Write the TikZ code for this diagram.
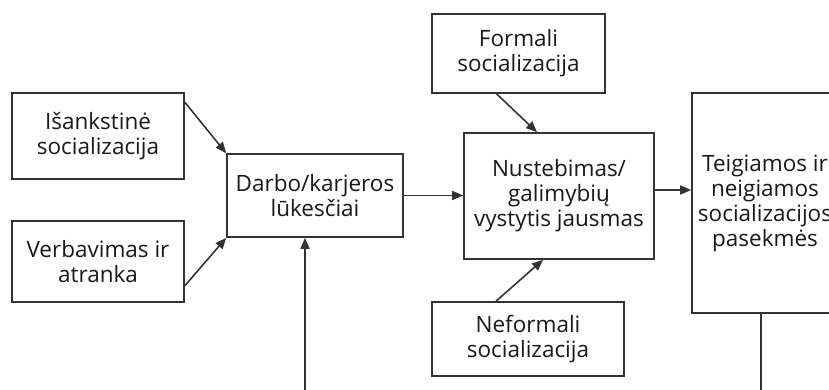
\documentclass[tikz,border=0pt]{standalone}
\usepackage{fontspec}
\setmainfont{Open Sans}
\usetikzlibrary{arrows.meta}
\definecolor{ink}{HTML}{333333}
\tikzset{
  box/.style={draw=ink, line width=1.6pt, fill=white, align=center, inner sep=0pt,
    font=\fontsize{22.5}{25}\selectfont, text=black!90},
  link/.style={draw=ink, line width=1.6pt, -{Triangle[length=11pt,width=9pt]}},
  plain/.style={draw=ink, line width=1.6pt}
}
\begin{document}
\begin{tikzpicture}[x=1pt,y=-1pt]
\useasboundingbox (0,0) rectangle (829,389);
\clip (0,0) rectangle (829,389);
\fill[white] (0,0) rectangle (829,389);

% boxes, given by their corners
\node[box, minimum width=172pt, minimum height=86pt] (isank) at (98,136) {Išankstinė\\socializacija};
\node[box, minimum width=172pt, minimum height=81pt] (verb) at (98,261.5) {Verbavimas ir\\atranka};
\node[box, minimum width=176pt, minimum height=83pt] (darbo) at (315,195.5) {Darbo/karjeros\\lūkesčiai};
\node[box, minimum width=173pt, minimum height=79pt] (formal) at (518.5,53.5) {Formali\\socializacija};
\node[box, minimum width=190pt, minimum height=126pt] (nust) at (559,196) {Nustebimas/\\galimybių\\vystytis jausmas};
\node[box, minimum width=192pt, minimum height=74pt] (neform) at (528,339) {Neformali\\socializacija};
\node[box, minimum width=146pt, minimum height=220pt] (teig) at (765,203) {Teigiamos ir\\neigiamos\\socializacijos\\pasekmės};

% loose ends at the lower edge
\coordinate (fbin) at (305,395);
\coordinate (fbout) at (761,395);

% connectors
\draw[link] ([yshift=-10pt]isank.north east) -- (darbo.north west);
\draw[link] ([yshift=17pt]verb.south east) -- (darbo.south west);
\draw[link] (darbo.east) -- (darbo.east -| nust.west);
\draw[link] ([xshift=-22pt]formal.south) -- ([xshift=-22pt]nust.north);
\draw[link] ([xshift=-32pt]neform.north) -- ([xshift=-16pt]nust.south);
\draw[link] ([yshift=6pt]nust.east) -- ([yshift=6pt]nust.east -| teig.west);
\draw[link] (fbin) -- (fbin |- darbo.south);
\draw[plain] (fbout |- teig.south) -- (fbout);
\end{tikzpicture}
\end{document}
